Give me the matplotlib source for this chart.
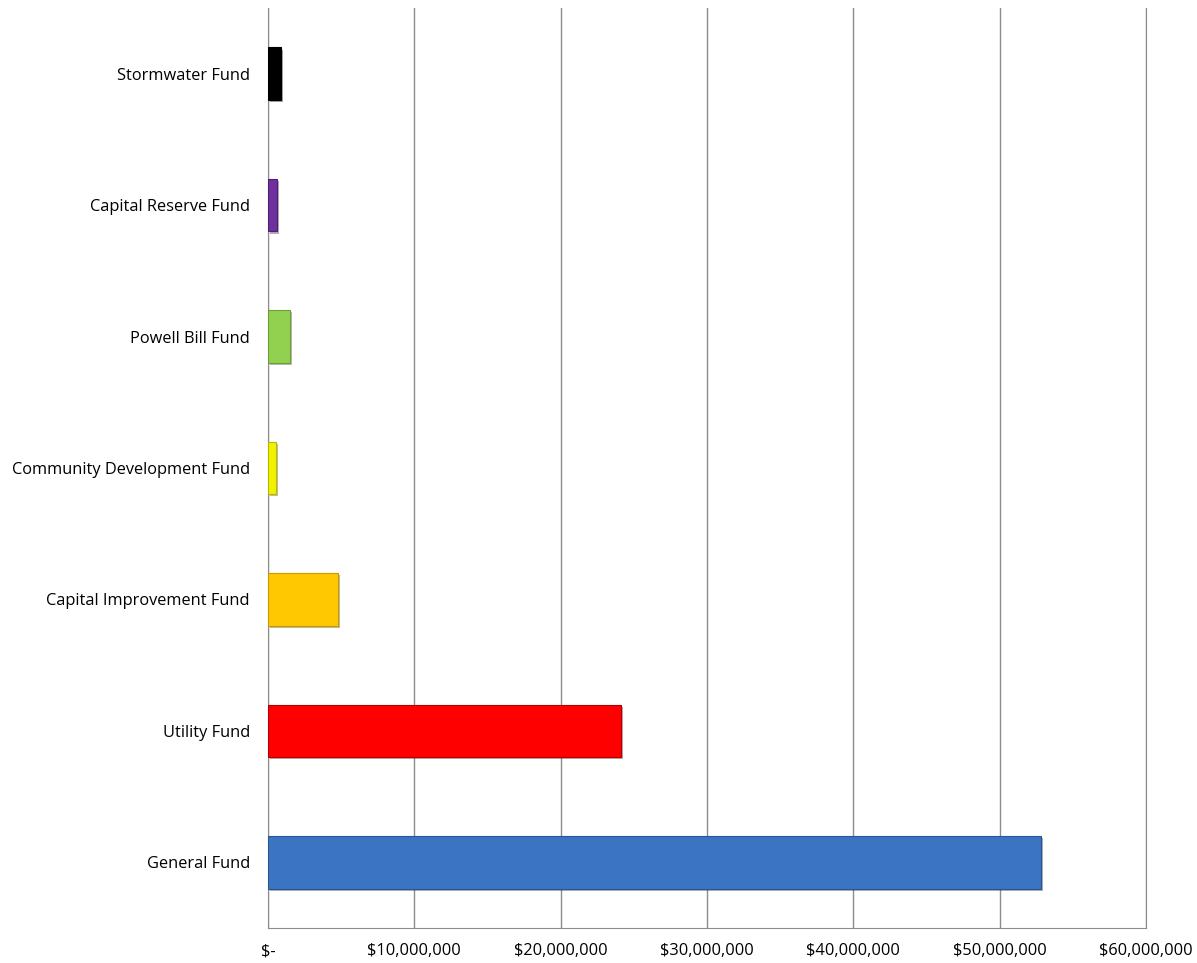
import matplotlib
matplotlib.use("Agg")
import matplotlib.pyplot as plt
from matplotlib.ticker import FuncFormatter, MultipleLocator
import matplotlib.patheffects as pe

categories = ["General Fund", "Utility Fund", "Capital Improvement Fund",
              "Community Development Fund", "Powell Bill Fund",
              "Capital Reserve Fund", "Stormwater Fund"]
values = [52800000, 24100000, 4780000, 570000, 1470000, 610000, 910000]
colors = ["#3B74C2", "#FF0000", "#FFC800", "#F2F200", "#92D050", "#7030A0", "#000000"]
edges = ["#2A5590", "#B00000", "#C89A00", "#B8B800", "#6E9E3A", "#4E2070", "#000000"]

plt.rcParams['font.family'] = ['Open Sans', 'DejaVu Sans']

fig = plt.figure(figsize=(11.97, 9.63), dpi=100)
ax = fig.add_axes([268/1197, 1 - 928/963, (1146 - 268)/1197, (928 - 8)/963])

ypos = list(range(len(categories)))
bars = ax.barh(ypos, values, height=0.40, color=colors, edgecolor=edges, linewidth=0.8, zorder=3)
for b in bars:
    b.set_path_effects([pe.SimplePatchShadow(offset=(1.5, -1.5), alpha=0.35), pe.Normal()])

ax.set_xlim(0, 60000000)
ax.set_ylim(-0.5, len(categories) - 0.5)
ax.xaxis.set_major_locator(MultipleLocator(10000000))
ax.xaxis.set_major_formatter(FuncFormatter(lambda v, p: "$-" if v == 0 else "${:,.0f}".format(v)))
ax.set_yticks(ypos)
ax.set_yticklabels(categories)

ax.grid(axis='x', color='#8C8C8C', linewidth=1.0, zorder=0)
ax.tick_params(axis='both', length=0, labelsize=11.8, colors='#000000')
ax.tick_params(axis='x', pad=11)
ax.tick_params(axis='y', pad=13)

ax.spines['top'].set_visible(False)
for s in ['left', 'bottom', 'right']:
    ax.spines[s].set_color('#8C8C8C')

fig.savefig("out.png", dpi=100)
